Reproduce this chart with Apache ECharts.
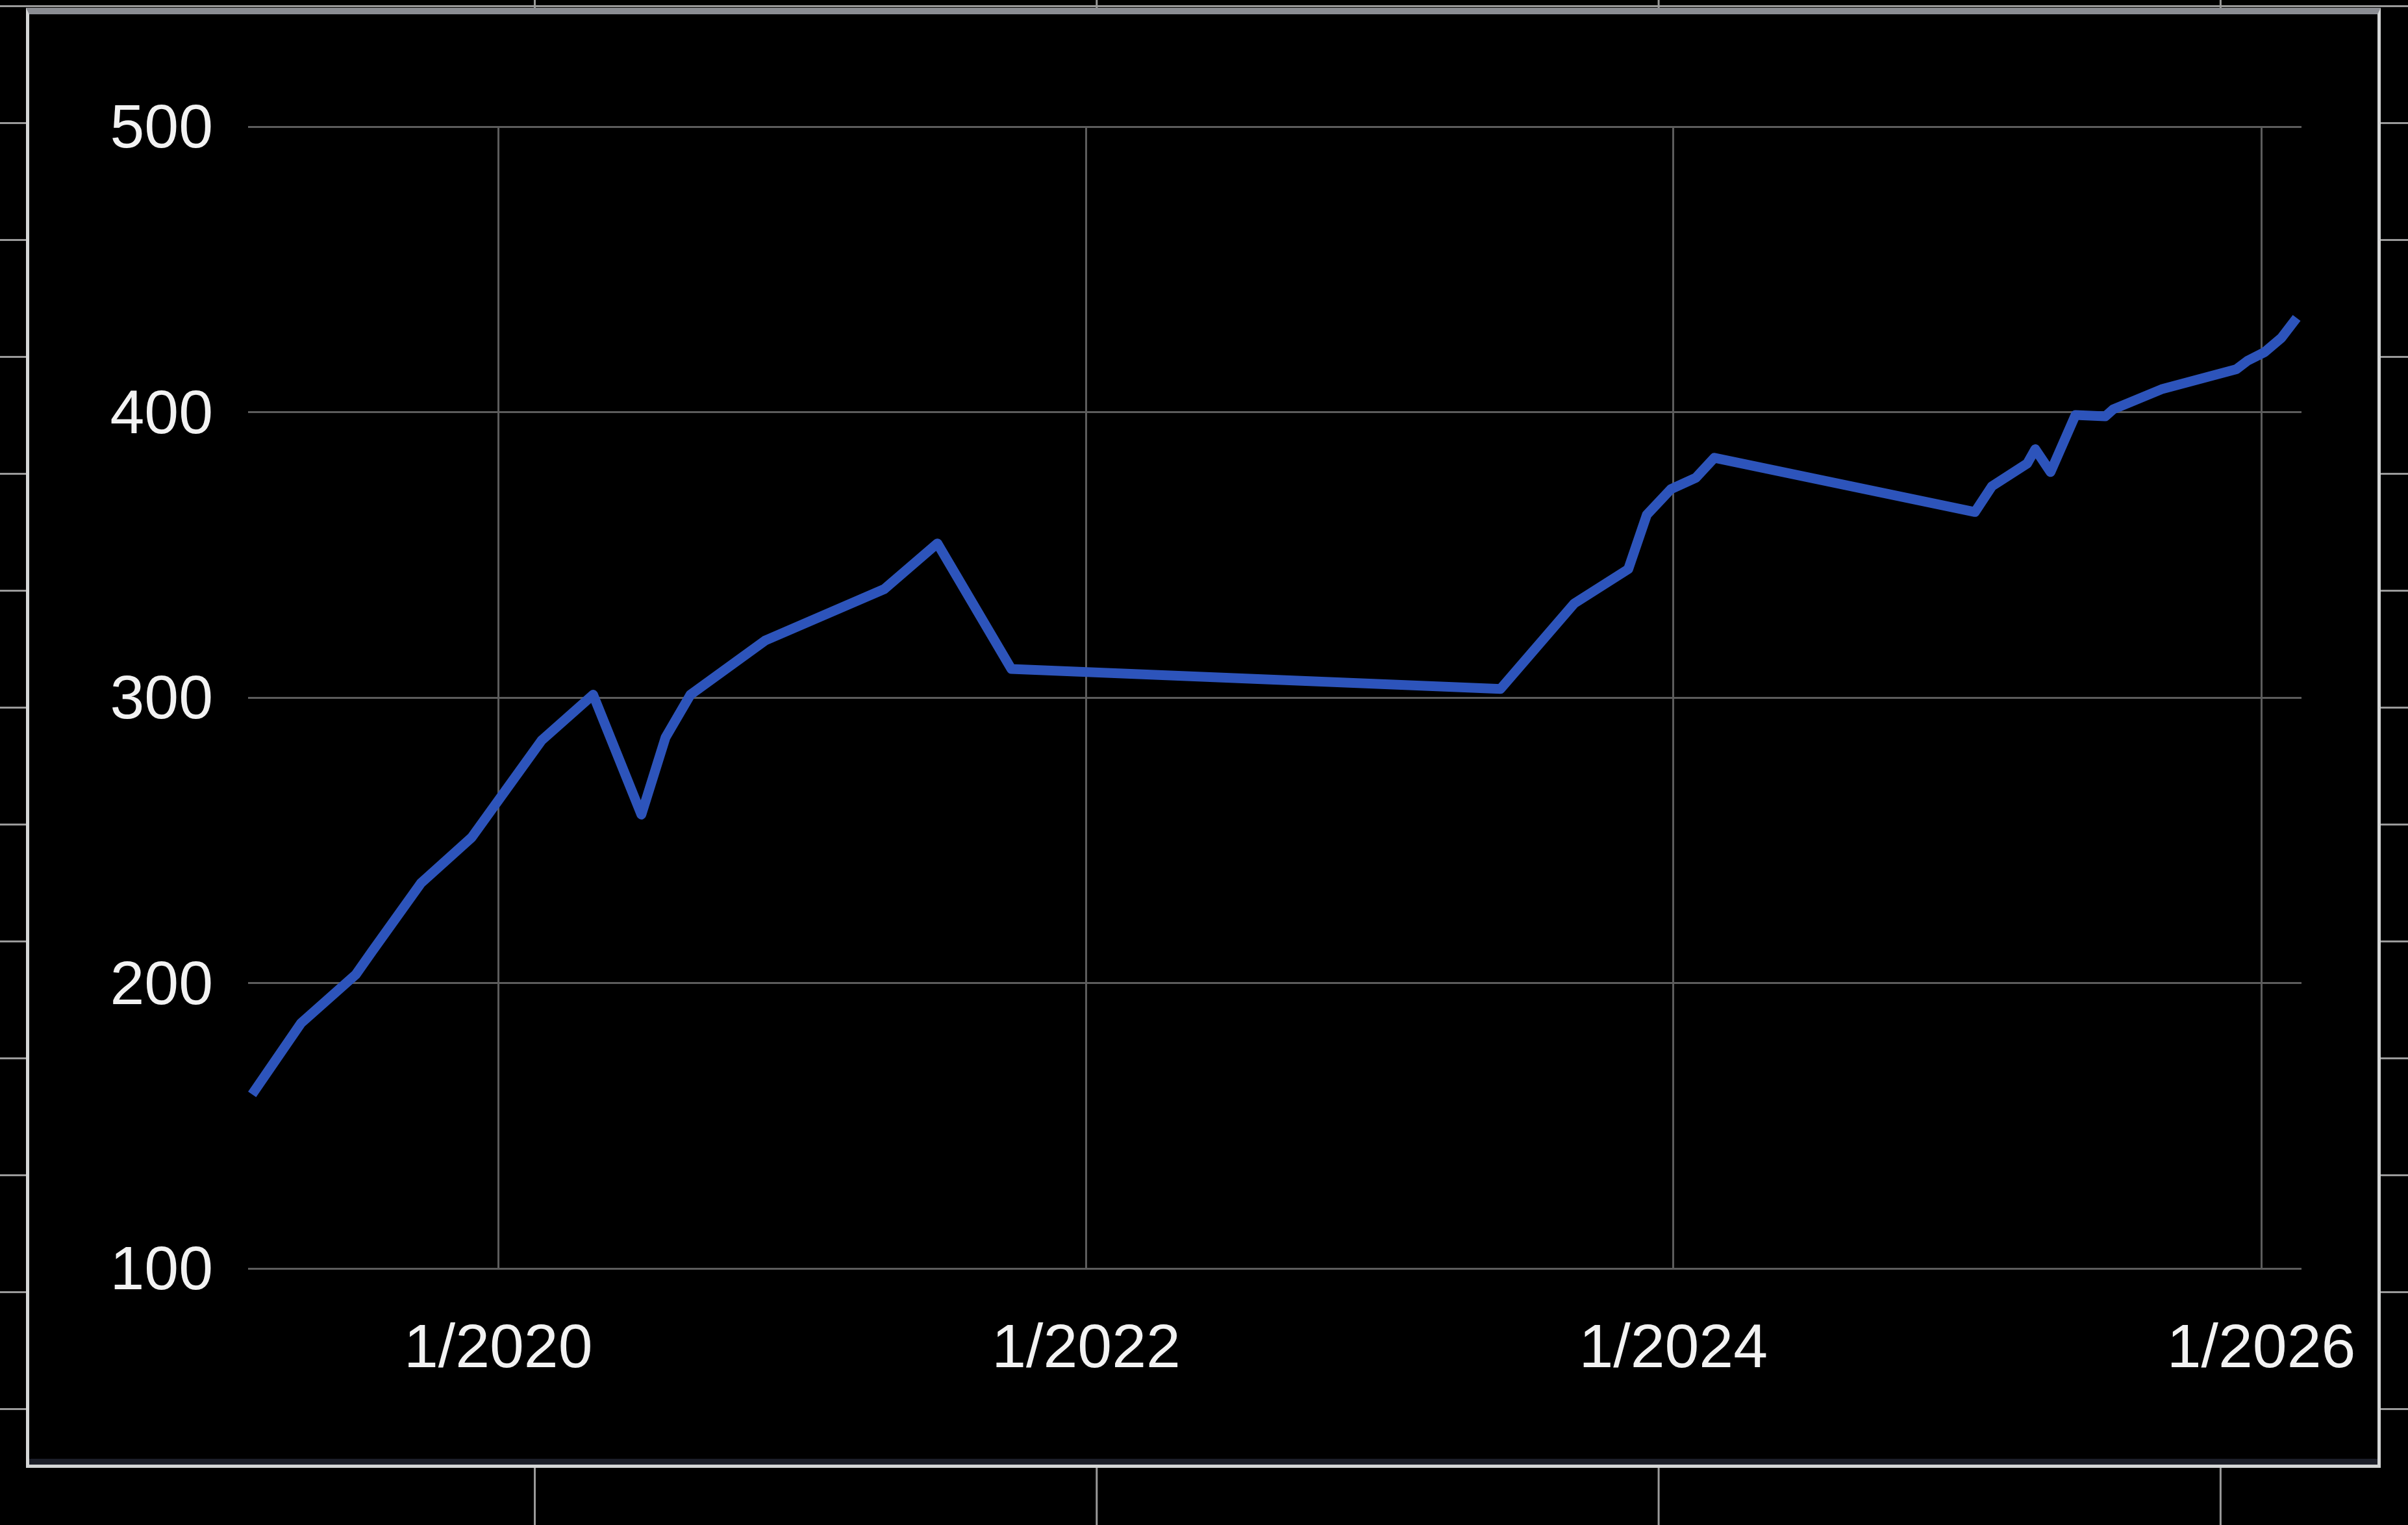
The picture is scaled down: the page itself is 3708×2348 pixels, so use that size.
<!DOCTYPE html>
<html>
<head>
	<meta charset="UTF-8">
	<title>chart</title>
	<script src="https://cdn.jsdelivr.net/npm/echarts@6/dist/echarts.min.js"></script>
	<style>
		html, body {
			margin: 0;
			padding: 0;
			background-color: #000;
		}
		.page {
			width: 3708px;
			height: 2348px;
			position: relative;
			overflow: hidden;
			background-color: #000;
			/* faint grid paper behind the framed chart */
			background-image: linear-gradient(to right, #9a9a9a 3px, transparent 3px),
				linear-gradient(to bottom, #9a9a9a 3px, transparent 3px);
			background-size: 865.3px 100%, 100% 180px;
			background-position: 822px 0, 0 188px;
		}
		.panel {
			position: absolute;
			left: 40px;
			top: 12px;
			width: 3626px;
			height: 2248px;
			box-sizing: border-box;
			background-color: #000;
			border-top: 10px solid #8b8d93;
			border-left: 5px solid #d4d6d6;
			border-right: 5px solid #d4d6d6;
			border-bottom: 5px solid #d4d6d6;
			box-shadow: inset 0 -9px 0 #1b1e28;
		}
		#main {
			position: absolute;
			left: 0;
			top: 0;
			width: 3708px;
			height: 2348px;
		}
	</style>
</head>
<body>
	<div class="page">
		<div class="panel"></div>
		<div id="main"></div>
	</div>
	<script type="text/javascript">
		var dates = ['2019-03-01', '2019-05-01', '2019-07-08', '2019-07-28', '2019-09-27', '2019-11-29',
			'2020-02-24', '2020-04-28', '2020-06-27', '2020-07-27', '2020-08-27', '2020-11-28',
			'2021-04-25', '2021-06-30', '2021-09-30', '2023-05-31', '2023-08-31', '2023-11-06',
			'2023-11-29', '2023-12-29', '2024-01-29', '2024-02-21', '2025-01-10', '2025-01-31',
			'2025-03-16', '2025-03-26', '2025-04-14', '2025-05-15', '2025-06-21', '2025-07-01',
			'2025-08-30', '2025-12-01', '2025-12-15', '2026-01-05', '2026-01-26', '2026-02-14'];
		var values = [161, 186, 203, 211, 235, 251,
			285, 301, 259, 286, 301, 320,
			338, 354, 310, 303, 333, 345,
			364, 373, 377, 384, 365, 374,
			382, 387, 379, 399, 398.5, 401,
			408, 415, 418, 421, 426, 433];
		var xTicks = ['2020-01-01', '2022-01-01', '2024-01-01', '2026-01-01'];
		var xStart = '2019-02-24', xEnd = '2026-02-20';
		var yMin = 100, yMax = 500, yStep = 100;

		function toTime(s) {
			return new Date(s + 'T00:00:00Z').getTime();
		}

		var points = [];
		for (var i = 0; i < dates.length; i++) {
			points.push([toTime(dates[i]), values[i]]);
		}
		var tickTimes = xTicks.map(toTime);
		var gridMarks = tickTimes.map(function(t) {
			return { xAxis: t };
		});

		var myChart = echarts.init(document.getElementById('main'));
		var option = {
			backgroundColor: 'transparent',
			animation: false,
			grid: {
				left: 382,
				top: 195,
				right: 164,
				bottom: 395
			},
			xAxis: {
				type: 'value',
				min: toTime(xStart),
				max: toTime(xEnd),
				axisLine: { show: false },
				axisTick: { show: false, customValues: tickTimes },
				axisLabel: {
					customValues: tickTimes,
					color: '#f2f2f2',
					fontSize: 95,
					fontFamily: 'Liberation Sans',
					margin: 78,
					formatter: function(v) {
						var d = new Date(v);
						return (d.getUTCMonth() + 1) + '/' + d.getUTCFullYear();
					}
				},
				splitLine: { show: false }
			},
			yAxis: {
				type: 'value',
				min: yMin,
				max: yMax,
				interval: yStep,
				axisLine: { show: false },
				axisTick: { show: false },
				axisLabel: {
					color: '#f2f2f2',
					fontSize: 95,
					fontFamily: 'Liberation Sans',
					margin: 54,
					formatter: function(v) {
						return '{n|' + v + '}';
					},
					rich: {
						n: {
							color: '#f2f2f2',
							fontSize: 95,
							fontFamily: 'Liberation Sans',
							padding: [12, 0, 0, 0]
						}
					}
				},
				splitLine: {
					lineStyle: { color: '#5c5c5c', width: 3 }
				}
			},
			series: [{
				// vertical gridlines at each January of even years
				type: 'line',
				data: [],
				z: 1,
				silent: true,
				markLine: {
					silent: true,
					symbol: 'none',
					label: { show: false },
					lineStyle: { color: '#5c5c5c', width: 3, type: 'solid' },
					data: gridMarks
				}
			}, {
				type: 'line',
				data: points,
				symbol: 'none',
				z: 5,
				lineStyle: {
					color: '#2d54bb',
					width: 15,
					join: 'round',
					cap: 'butt'
				}
			}]
		};
		myChart.setOption(option);
	</script>
</body>
</html>
